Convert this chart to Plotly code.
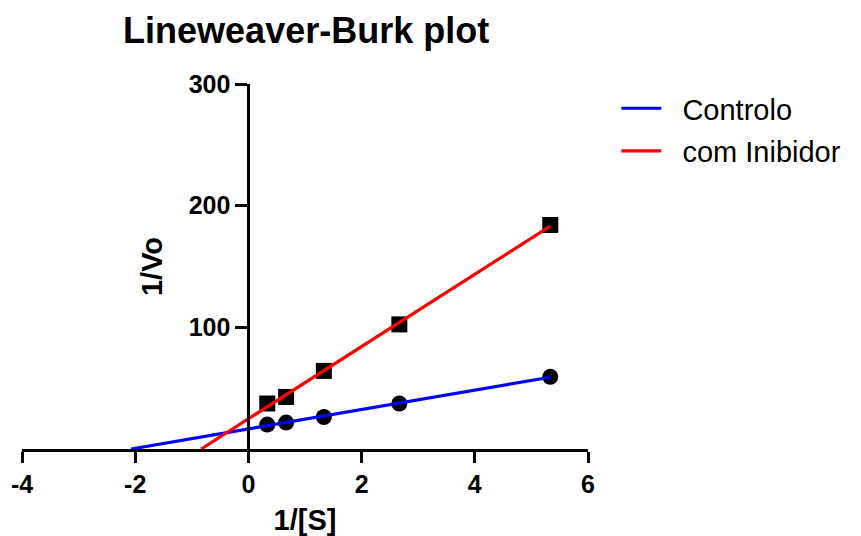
import numpy as np
import plotly.graph_objects as go

# Data
inv_s = [1/3, 2/3, 4/3, 8/3, 16/3]
controlo = [20.1, 21.7, 26.3, 37.4, 59.3]
inibidor = [37.4, 42.8, 64.2, 102.4, 184.1]
series_names = ["Controlo", "com Inibidor"]
series_colors = ["#0000FF", "#FF0000"]
marker_symbols = ["circle", "square"]
x_ticks = [-4, -2, 0, 2, 4, 6]
y_ticks = [100, 200, 300]

FONT = "Liberation Sans, Arial, sans-serif"
fig = go.Figure()

# markers first (lines drawn on top)
for ys, sym in zip([controlo, inibidor], marker_symbols):
    fig.add_trace(go.Scatter(x=inv_s, y=ys, mode="markers", showlegend=False,
                             marker=dict(symbol=sym, size=16, color="black"),
                             cliponaxis=False, hoverinfo="skip"))

# linear regression lines extended to x-intercept
for i, (ys, name, col) in enumerate(zip([controlo, inibidor], series_names, series_colors)):
    m, b = np.polyfit(inv_s, ys, 1)
    x0 = -b / m
    xs = [x0, max(inv_s)]
    fig.add_trace(go.Scatter(x=xs, y=[m * v + b for v in xs], mode="lines",
                             name="\u00a0\u00a0" + name, legendgroup=f"g{i}",
                             line=dict(color=col, width=3.2), cliponaxis=False))

W, H = 853, 528
fig.update_layout(
    width=W, height=H,
    margin=dict(l=14, r=273, t=76, b=87),
    plot_bgcolor="white", paper_bgcolor="white",
    font=dict(family=FONT, color="black"),
    title=dict(text="<b>Lineweaver-Burk plot</b>", x=0.502, xref="paper", xanchor="center",
               y=1 - 22 / H, yref="container", yanchor="middle",
               font=dict(size=36, family=FONT, color="black")),
    showlegend=True,
    legend=dict(x=1.05, xanchor="left", y=1.003, yanchor="top",
                font=dict(size=29, family=FONT, color="black"),
                bgcolor="rgba(0,0,0,0)", itemwidth=40, tracegroupgap=2),
    xaxis=dict(range=[-4, 6], tickvals=x_ticks, ticktext=[str(v) for v in x_ticks],
               showgrid=False, zeroline=False, showline=True, linecolor="black", linewidth=3,
               ticks="outside", ticklen=11, tickwidth=3, tickcolor="black",
               tickfont=dict(size=25, family=FONT, color="black", weight="bold"),
               title=dict(text="<b>1/[S]</b>", font=dict(size=29, family=FONT, color="black"), standoff=14),
               automargin=False),
    yaxis=dict(range=[0, 300], tickvals=y_ticks, ticktext=[str(v) for v in y_ticks],
               anchor="free", position=0.4,
               showgrid=False, zeroline=False, showline=True, linecolor="black", linewidth=3,
               ticks="outside", ticklen=12, tickwidth=3, tickcolor="black",
               tickfont=dict(size=25, family=FONT, color="black", weight="bold"),
               title=dict(text="<b>1/Vo</b>", font=dict(size=29, family=FONT, color="black"), standoff=16),
               automargin=False),
)

fig.write_html("out.html")
